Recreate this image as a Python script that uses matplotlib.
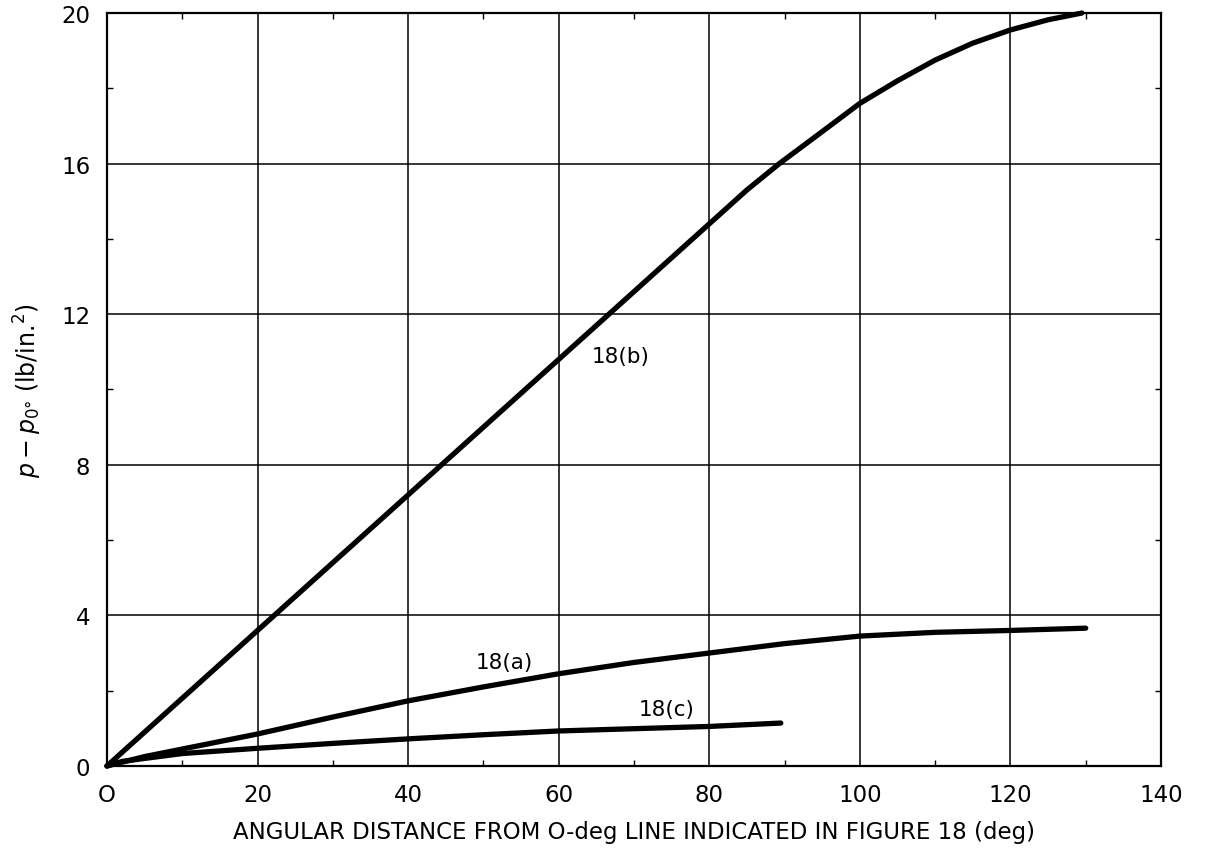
import matplotlib
matplotlib.use("Agg")
import matplotlib.pyplot as plt
from matplotlib.ticker import MultipleLocator

# curve data
x_b = [0, 10, 20, 30, 40, 45, 50, 60, 67, 70, 80, 85, 89.3, 95, 100, 105, 110, 115, 120, 125, 129.5]
y_b = [0, 1.8, 3.6, 5.4, 7.2, 8.1, 9.0, 10.8, 12.06, 12.6, 14.4, 15.3, 16.0, 16.85, 17.6, 18.2, 18.75, 19.2, 19.55, 19.82, 20.0]

x_a = [0, 5, 10, 20, 30, 40, 50, 60, 70, 80, 90, 100, 110, 120, 130]
y_a = [0, 0.25, 0.45, 0.85, 1.3, 1.73, 2.1, 2.45, 2.75, 3.0, 3.25, 3.45, 3.55, 3.6, 3.66]

x_c = [0, 2, 5, 10, 20, 30, 40, 50, 60, 70, 80, 89.5]
y_c = [0, 0.12, 0.2, 0.33, 0.47, 0.6, 0.72, 0.83, 0.93, 0.99, 1.05, 1.14]

curve_labels = ["18(b)", "18(a)", "18(c)"]
label_pos = [(68.2, 10.9), (52.8, 2.76), (74.4, 1.51)]

x_ticks = [0, 20, 40, 60, 80, 100, 120, 140]
x_ticklabels = ["O", "20", "40", "60", "80", "100", "120", "140"]
y_ticks = [0, 4, 8, 12, 16, 20]

fig = plt.figure(figsize=(12.06, 8.54), dpi=100)
ax = fig.add_axes([0.0887, 0.1019, 0.874, 0.8817])

for xs, ys in [(x_b, y_b), (x_a, y_a), (x_c, y_c)]:
    ax.plot(xs, ys, color="black", lw=3.8, solid_capstyle="round",
            solid_joinstyle="round", clip_on=False, zorder=3)

for txt, (lx, ly) in zip(curve_labels, label_pos):
    ax.text(lx, ly, txt, fontsize=15.5, ha="center", va="center")

ax.set_xlim(0, 140)
ax.set_ylim(0, 20)
ax.set_xticks(x_ticks)
ax.set_xticklabels(x_ticklabels)
ax.set_yticks(y_ticks)
ax.xaxis.set_minor_locator(MultipleLocator(10))
ax.yaxis.set_minor_locator(MultipleLocator(2))
ax.grid(True, which="major", color="black", lw=1.1)
ax.tick_params(which="major", direction="in", length=0, labelsize=16.5, pad=12)
ax.tick_params(which="minor", direction="in", length=4, width=1,
               top=True, right=True)
for s in ax.spines.values():
    s.set_linewidth(1.6)

ax.set_xlabel("ANGULAR DISTANCE FROM O-deg LINE INDICATED IN FIGURE 18 (deg)",
              fontsize=16.5, labelpad=10)
ax.set_ylabel(r"$p-p_{0°}$ (lb/in.$^2$)", fontsize=17, labelpad=12)

fig.savefig("out.png", dpi=100)
